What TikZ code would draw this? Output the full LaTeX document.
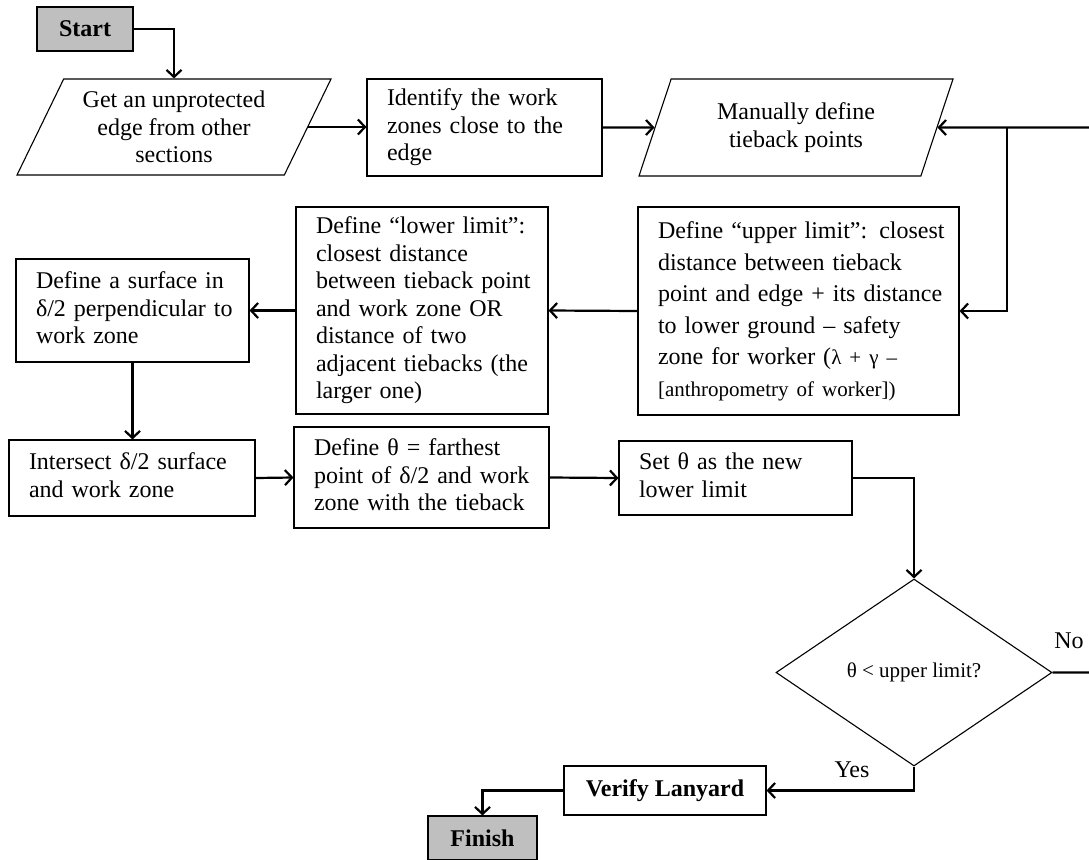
\documentclass[tikz,border=0pt]{standalone}
\usepackage{fontspec}
\setmainfont{Liberation Serif}
\usetikzlibrary{shapes.geometric,arrows.meta,calc}
\definecolor{termgray}{HTML}{BFBFBF}
% left-aligned lines that never re-wrap inside a box
\newcommand{\boxlines}[1]{\noindent\begin{tabular}{@{}l@{}}#1\end{tabular}}

\begin{document}
\begin{tikzpicture}[x=1pt,y=-1pt,
  font=\fontsize{24}{27.5}\selectfont,
  box/.style={draw, rectangle, line width=1.1pt, inner xsep=20pt, inner ysep=0pt, align=left},
  para/.style={draw, trapezium, trapezium left angle=57, trapezium right angle=123,
    trapezium stretches body, line width=1.1pt, align=center, inner sep=0pt, minimum width=314pt},
  term/.style={draw, rectangle, fill=termgray, line width=1.1pt, inner sep=0pt,
    font=\fontsize{24}{27.5}\selectfont\bfseries},
  decision/.style={draw, diamond, line width=1.1pt, inner sep=0pt,
    font=\fontsize{21}{24}\selectfont},
  link/.style={line width=2.2pt},
  arr/.style={link, -{Straight Barb[length=7pt,width=15pt]}},
  lbl/.style={inner sep=0pt, font=\fontsize{24}{27.5}\selectfont},
]
\useasboundingbox (0,0) rectangle (1089,859);

% terminals
\node[term, minimum width=96pt, minimum height=44pt] (start) at (85,29) {Start};
\node[term, minimum width=109pt, minimum height=44pt] (finish) at (482.5,838) {Finish};

% first row
\node[para, minimum height=96pt] (p1) at (174,127) {Get an unprotected\\edge from other\\sections};
\node[box, text width=195pt, minimum height=97pt] (b2) at (484.5,127.5)
  {\boxlines{Identify the work\\zones close to the\\edge}};
\node[para, minimum height=97pt] (p3) at (796,127.5) {Manually define\\tieback points};

% limits
\node[box, text width=281pt, minimum height=208pt, font=\fontsize{24}{31.5}\selectfont] (upper) at (798.5,311)
  {\boxlines{Define “upper limit”: closest\\distance between tieback\\point and edge + its distance\\to lower ground – safety\\zone for worker ({\fontsize{21}{24}\selectfont λ + γ –}\\{\fontsize{21}{24}\selectfont [anthropometry of worker])}}};
\node[box, text width=212pt, minimum height=207pt] (lower) at (422,310.5)
  {\boxlines{Define “lower limit”:\\closest distance\\between tieback point\\and work zone OR\\distance of two\\adjacent tiebacks (the\\larger one)}};
\node[box, text width=193pt, minimum height=103pt] (surface) at (132.5,310.5)
  {\boxlines{Define a surface in\\δ/2 perpendicular to\\work zone}};

% third row
\node[box, text width=206pt, minimum height=76pt] (isect) at (132,478)
  {\boxlines{Intersect δ/2 surface\\and work zone}};
\node[box, text width=215pt, minimum height=101pt] (theta) at (421.5,477.5)
  {\boxlines{Define θ = farthest\\point of δ/2 and work\\zone with the tieback}};
\node[box, text width=193pt, minimum height=74pt] (setb) at (735.5,478)
  {\boxlines{Set θ as the new\\lower limit}};

% decision and check
\node[decision, minimum width=276pt, minimum height=187pt] (dia) at (914,672.5) {θ < upper limit?};
\node[draw, rectangle, line width=1.1pt, inner sep=0pt, minimum width=202pt, minimum height=49pt,
  font=\fontsize{24}{27.5}\selectfont\bfseries] (verify) at (665,790.5) {Verify Lanyard};

\node[lbl] (nolbl) at (1069,641) {No};
\node[lbl] (yeslbl) at (852,770) {Yes};

% loop-back helpers
\coordinate (rtop) at (1091,127.5);
\coordinate (jn) at (1007,127.5);

% connectors
\draw[arr] (start.east) -| (p1.center |- p1.north);
\draw[arr] (p1.0) -- (p1.0 -| b2.west);
\draw[arr] (b2.east) -- (p3.180);
\draw[arr] (dia.east) -- (dia.east -| rtop) -- (rtop) -- (p3.0);
\draw[arr] (jn) |- (upper.east);
\draw[arr] (upper.west) -- (lower.east);
\draw[arr] (lower.west) -- (surface.east);
\draw[arr] (surface.south) -- (surface.south |- isect.north);
\draw[arr] (isect.east) -- (theta.west);
\draw[arr] (theta.east) -- (setb.west);
\draw[arr] (setb.east) -| (dia.north);
\draw[arr] (dia.south) |- (verify.east);
\draw[arr] (verify.west) -| (finish.north);
\end{tikzpicture}
\end{document}
